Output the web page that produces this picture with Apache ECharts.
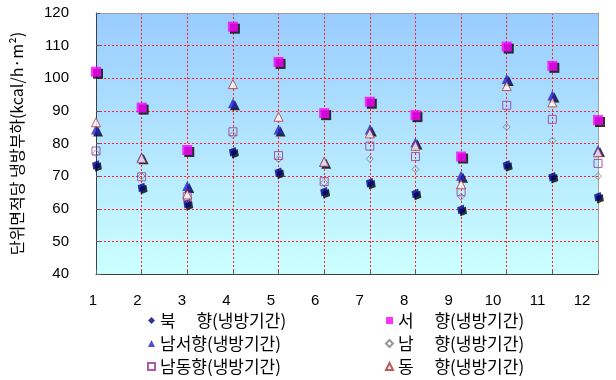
<!DOCTYPE html>
<html><head><meta charset="utf-8">
<script src="https://cdn.jsdelivr.net/npm/echarts@6/dist/echarts.min.js"></script>
<style>html,body{margin:0;padding:0;background:#fff}#c{width:616px;height:380px}</style>
</head><body><div id="c"></div>
<script>
var months = [1,2,3,4,5,6,7,8,9,10,11,12];
var yTicks = [40,50,60,70,80,90,100,110,120];
var north     = [73.4,66.5,61.5,77.5,71.2,65.2,68.0,64.7,59.8,73.4,69.8,63.7];
var west      = [102.0,91.0,78.0,115.8,105.0,89.3,92.8,88.7,76.0,109.7,103.8,87.2];
var southwest = [84.3,75.8,67.0,92.3,84.3,74.4,84.3,80.3,70.1,99.8,94.7,78.0];
var south     = [77.0,70.0,63.0,82.6,75.2,68.0,75.3,72.1,63.7,85.1,80.9,70.0];
var southeast = [77.7,69.8,63.7,83.6,76.3,68.3,79.2,76.0,65.2,91.7,87.4,73.9];
var east      = [86.5,75.5,64.4,98.2,88.2,74.4,83.1,79.3,67.5,97.6,92.6,77.3];
var names = ['북\u3000 향(냉방기간)','서\u3000 향(냉방기간)','남서향(냉방기간)','남\u3000 향(냉방기간)','남동향(냉방기간)','동\u3000 향(냉방기간)'];
var yName = '단위면적당 냉방부하(kcal/h·m²)';

function pts(arr){ return months.map(function(m,i){ return [m, arr[i]]; }); }
var shadow = {shadowColor:'#000', shadowOffsetX:2, shadowOffsetY:2, shadowBlur:0};
var font = 'Liberation Sans, Noto Sans CJK KR, sans-serif';
var legendCommon = {orient:'vertical', top:312, height:66, padding:0, itemWidth:7, itemHeight:7, itemGap:6,
  textStyle:{fontSize:17, color:'#000', lineHeight:17, fontFamily:'Noto Sans CJK KR, sans-serif'},
  itemStyle:{shadowColor:'transparent', shadowOffsetX:0, shadowOffsetY:0}};

var chart = echarts.init(document.getElementById('c'));
chart.setOption({
  animation:false,
  textStyle:{fontFamily:font},
  grid:[
    {left:96, top:13, width:502, height:261, show:true, borderWidth:0,
     backgroundColor:new echarts.graphic.LinearGradient(0,0,0,1,[{offset:0,color:'#99CCFF'},{offset:1,color:'#CCFFFF'}])},
    {left:93, top:13, width:489, height:261, show:false}
  ],
  xAxis:[
    {type:'value', gridIndex:0, min:1, max:12, interval:1,
     axisLine:{show:true, lineStyle:{color:'#404040', width:1}},
     axisTick:{show:true, inside:true, length:4, lineStyle:{color:'#606060'}},
     axisLabel:{show:false},
     splitLine:{show:true, lineStyle:{color:'#FF2020', type:[2,2], width:1}}},
    {type:'value', gridIndex:1, min:1, max:12, interval:1,
     axisLine:{show:false}, axisTick:{show:false}, splitLine:{show:false},
     axisLabel:{show:true, color:'#000', fontSize:15, margin:19, fontFamily:font}},
    {type:'value', gridIndex:0, position:'top', min:1, max:12,
     axisLine:{show:true, lineStyle:{color:'#A0A0A0'}}, axisTick:{show:false}, axisLabel:{show:false}, splitLine:{show:false}}
  ],
  yAxis:[
    {type:'value', gridIndex:0, min:40, max:120, interval:10,
     name:yName, nameLocation:'middle', nameRotate:90, nameGap:71,
     nameTextStyle:{fontSize:16, color:'#000', fontFamily:'Noto Sans CJK KR, sans-serif'},
     axisLine:{show:true, lineStyle:{color:'#404040', width:1}},
     axisTick:{show:true, inside:true, length:4, lineStyle:{color:'#606060'}},
     axisLabel:{color:'#000', fontSize:15, margin:27, fontFamily:font},
     splitLine:{show:true, lineStyle:{color:'#FF2020', type:[2,2], width:1}}},
    {type:'value', gridIndex:1, min:40, max:120, show:false},
    {type:'value', gridIndex:0, position:'right', min:40, max:120,
     axisLine:{show:true, lineStyle:{color:'#A0A0A0'}}, axisTick:{show:false}, axisLabel:{show:false}, splitLine:{show:false}}
  ],
  legend:[
    Object.assign({left:147, data:[names[0],names[2],names[4]]}, legendCommon),
    Object.assign({left:385, data:[names[1],names[3],names[5]]}, legendCommon)
  ],
  series:[
    {name:names[0], type:'scatter', xAxisIndex:0, yAxisIndex:0, symbol:'diamond', symbolSize:[9,11], symbolRotate:-30,
     itemStyle:Object.assign({color:'#000080'}, shadow), data:pts(north)},
    {name:names[1], type:'scatter', xAxisIndex:0, yAxisIndex:0, symbol:'rect', symbolSize:10,
     itemStyle:Object.assign({color:'#FF00FF'}, shadow), data:pts(west)},
    {name:names[2], type:'scatter', xAxisIndex:0, yAxisIndex:0, symbol:'triangle', symbolSize:10,
     itemStyle:Object.assign({color:'#2222CC'}, shadow), data:pts(southwest)},
    {name:names[3], type:'scatter', xAxisIndex:0, yAxisIndex:0, symbol:'diamond', symbolSize:7,
     itemStyle:{color:'rgba(255,255,255,0)', borderColor:'#808080', borderWidth:1}, data:pts(south)},
    {name:names[4], type:'scatter', xAxisIndex:0, yAxisIndex:0, symbol:'rect', symbolSize:8,
     itemStyle:{color:'rgba(255,255,255,0)', borderColor:'#993399', borderWidth:1}, data:pts(southeast)},
    {name:names[5], type:'scatter', xAxisIndex:0, yAxisIndex:0, symbol:'triangle', symbolSize:9,
     itemStyle:{color:'#FFFFFF', borderColor:'#B03030', borderWidth:1}, data:pts(east)}
  ]
});
</script></body></html>
